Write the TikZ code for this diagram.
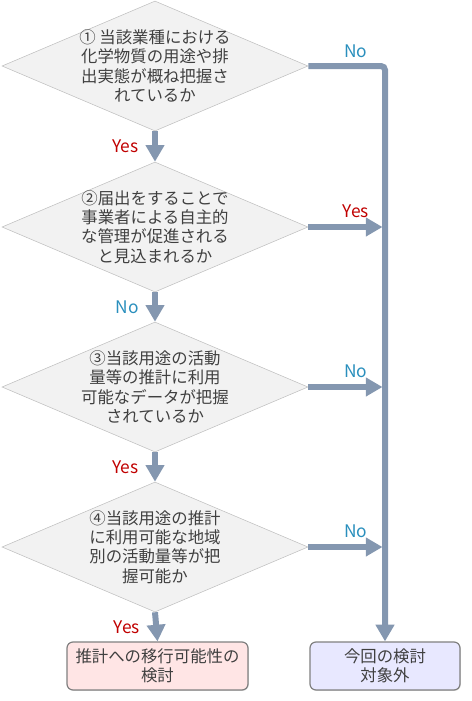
\documentclass[tikz,border=0pt]{standalone}
\usepackage{fontspec}
\setmainfont{Noto Sans CJK JP}
\usepackage{xcolor}
\usepackage{tikz}
\usetikzlibrary{shapes.geometric,arrows.meta,positioning,shadows}
\definecolor{flowgray}{HTML}{8497B0}
\definecolor{yesred}{HTML}{C00000}
\definecolor{noblue}{HTML}{2A8FBD}
\definecolor{txtgray}{HTML}{404040}
\tikzset{
  qnode/.style={diamond,draw=black!25,fill=black!5,aspect=2.35,inner sep=-3pt,
    minimum width=229.5pt,minimum height=97.5pt,align=center,text=txtgray},
  endnode/.style={rectangle,rounded corners=4.5pt,draw=black!50,line width=0.9pt,
    minimum height=36pt,align=center,text=txtgray,
    drop shadow={shadow xshift=0.6pt,shadow yshift=-0.6pt,opacity=0.25}},
  flow/.style={draw=flowgray,line width=4.5pt,-{Triangle[length=12.5pt,width=13.5pt]}},
  yeslab/.style={text=yesred,inner sep=1pt,font=\fontsize{13pt}{15pt}\selectfont},
  nolab/.style={text=noblue,inner sep=1pt,font=\fontsize{13pt}{15pt}\selectfont}
}

\begin{document}
\begin{tikzpicture}[x=0.75pt,y=-0.75pt,font=\fontsize{12.3pt}{14.4pt}\selectfont]
  \useasboundingbox (0,0) rectangle (472,701);
  \node[qnode] (d1) at (155,66) {① 当該業種における\\化学物質の用途や排\\出実態が概ね把握さ\\れているか};
  \node[qnode] (d2) at (155,227) {②届出をすることで\\事業者による自主的\\な管理が促進される\\と見込まれるか};
  \node[qnode] (d3) at (155,387) {③当該用途の活動\\量等の推計に利用\\可能なデータが把握\\されているか};
  \node[qnode] (d4) at (155,547) {④当該用途の推計\\に利用可能な地域\\別の活動量等が把\\握可能か};
  \node[endnode,fill=red!10,minimum width=135.75pt] (est) at (157.5,666) {推計への移行可能性の\\検討};
  \node[endnode,fill=blue!9,minimum width=112.5pt] (out) at (385,666) {今回の検討\\対象外};
  \coordinate (j2) at (382.5,227);
  \coordinate (j3) at (382.5,387);
  \coordinate (j4) at (382.5,547);
  \draw[flow,rounded corners=3pt] (d1.east) -| (out.north) node[nolab,pos=0.31,above=3pt] (n1) {No};
  \draw[flow] (d1.south) -- (d2.north) node[yeslab,midway,left=9pt] (y1) {Yes};
  \draw[flow] (d2.east) -- (j2) node[yeslab,pos=0.64,above=4pt] (y2) {Yes};
  \draw[flow] (d2.south) -- (d3.north) node[nolab,midway,left=9pt] (n2) {No};
  \draw[flow] (d3.east) -- (j3) node[nolab,pos=0.64,above=4pt] (n3) {No};
  \draw[flow] (d3.south) -- (d4.north) node[yeslab,midway,left=9pt] (y3) {Yes};
  \draw[flow] (d4.east) -- (j4) node[nolab,pos=0.64,above=4pt] (n4) {No};
  \draw[flow] (d4.south) -- (est.north) node[yeslab,midway,left=9pt] (y4) {Yes};
\end{tikzpicture}
\end{document}
